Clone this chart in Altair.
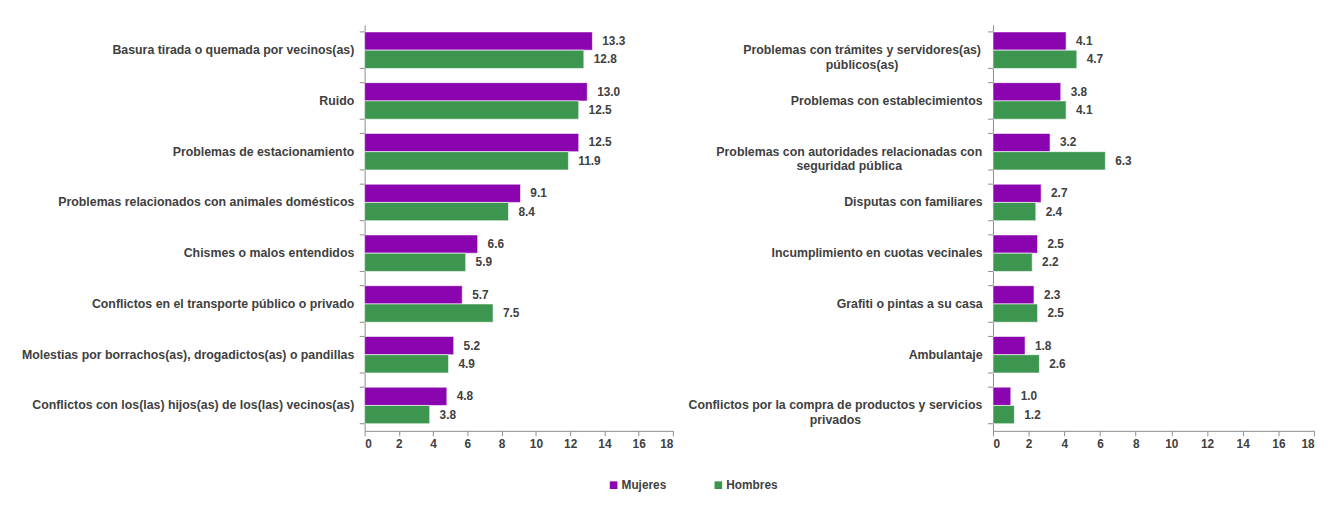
import altair as alt
import pandas as pd

series = ["Mujeres", "Hombres"]
colors = ["#8A05B0", "#3D9650"]

left_cats = [
    "Basura tirada o quemada por vecinos(as)",
    "Ruido",
    "Problemas de estacionamiento",
    "Problemas relacionados con animales domésticos",
    "Chismes o malos entendidos",
    "Conflictos en el transporte público o privado",
    "Molestias por borrachos(as), drogadictos(as) o pandillas",
    "Conflictos con los(las) hijos(as) de los(las) vecinos(as)",
]
left_mujeres = [13.3, 13.0, 12.5, 9.1, 6.6, 5.7, 5.2, 4.8]
left_hombres = [12.8, 12.5, 11.9, 8.4, 5.9, 7.5, 4.9, 3.8]

right_cats = [
    "Problemas con trámites y servidores(as)|públicos(as)",
    "Problemas con establecimientos",
    "Problemas con autoridades relacionadas con|seguridad pública",
    "Disputas con familiares",
    "Incumplimiento en cuotas vecinales",
    "Grafiti o pintas a su casa",
    "Ambulantaje",
    "Conflictos por la compra de productos y servicios|privados",
]
right_mujeres = [4.1, 3.8, 3.2, 2.7, 2.5, 2.3, 1.8, 1.0]
right_hombres = [4.7, 4.1, 6.3, 2.4, 2.2, 2.5, 2.6, 1.2]

x_ticks = [0, 2, 4, 6, 8, 10, 12, 14, 16, 18]

# label layout: two-line labels are centred; padding puts their centre in place
centre_pad = {
    right_cats[0]: 133,
    right_cats[2]: 146,
    right_cats[7]: 160,
}

FONT = "Liberation Sans"
TXT = "#404040"
AX = "#8C8C8C"
LBL = 12.5
NOVIEW = alt.ViewBackground(stroke="transparent", strokeWidth=0)


def make_df(cats, muj, hom):
    rows = []
    for c, m, h in zip(cats, muj, hom):
        rows.append({"cat": c, "serie": "Mujeres", "valor": m})
        rows.append({"cat": c, "serie": "Hombres", "valor": h})
    return pd.DataFrame(rows)


def panel(cats, muj, hom, width, extent, pads):
    df = make_df(cats, muj, hom)
    yscale = alt.Scale(domain=cats, paddingInner=0.28, paddingOuter=0.14)
    xscale = alt.Scale(domain=[0, 18], nice=False)
    axis_kw = dict(
        labelExpr="split(datum.label, '|')",
        ticks=False,
        domain=True,
        domainColor=AX,
        labelFont=FONT,
        labelFontSize=LBL,
        labelFontWeight="bold",
        labelColor=TXT,
        labelLimit=400,
        labelLineHeight=15,
        minExtent=extent,
        maxExtent=extent,
        grid=False,
        title=None,
    )
    if pads:
        conds_pad = [{"test": f"datum.value == '{k}'", "value": v} for k, v in pads.items()]
        conds_align = [{"test": f"datum.value == '{k}'", "value": "center"} for k in pads]
        axis_kw["labelPadding"] = {"condition": conds_pad, "value": 11}
        axis_kw["labelAlign"] = {"condition": conds_align, "value": "right"}
    else:
        axis_kw["labelPadding"] = 11
    y_axis = alt.Axis(**axis_kw)
    x_axis = alt.Axis(
        values=x_ticks,
        grid=False,
        title=None,
        domainColor=AX,
        tickColor=AX,
        tickSize=5,
        labelOverlap=False,
        labelFont=FONT,
        labelFontSize=12,
        labelFontWeight="bold",
        labelColor=TXT,
        labelPadding=3,
    )
    base = alt.Chart(df)
    bars = base.mark_bar(stroke="white", strokeWidth=0.6).encode(
        y=alt.Y("cat:N", scale=yscale, sort=cats, title=None, axis=y_axis),
        x=alt.X("valor:Q", scale=xscale, title=None, axis=x_axis),
        yOffset=alt.YOffset("serie:N", sort=series, scale=alt.Scale(paddingInner=0)),
        color=alt.Color(
            "serie:N",
            sort=series,
            scale=alt.Scale(domain=series, range=colors),
            legend=alt.Legend(
                title=None,
                orient="none",
                direction="horizontal",
                legendX=246,
                legendY=460,
                symbolType="square",
                symbolSize=60,
                symbolStrokeWidth=0,
                labelFont=FONT,
                labelFontSize=12,
                labelFontWeight="bold",
                labelColor=TXT,
                columnPadding=46,
                labelOffset=2,
            ),
        ),
    )
    labels = base.mark_text(
        align="left", baseline="middle", dx=10, font=FONT, fontSize=12,
        fontWeight="bold", color=TXT
    ).encode(
        y=alt.Y("cat:N", scale=yscale, sort=cats, title=None, axis=y_axis),
        x=alt.X("valor:Q", scale=xscale, title=None, axis=x_axis),
        yOffset=alt.YOffset("serie:N", sort=series, scale=alt.Scale(paddingInner=0)),
        text=alt.Text("valor:Q", format=".1f"),
    )
    tdf = pd.DataFrame({"cat": cats})
    ticks0 = alt.Chart(tdf).mark_rule(color=AX).encode(
        y=alt.Y("cat:N", scale=yscale, sort=cats, bandPosition=0, title=None, axis=y_axis),
        x=alt.value(-5),
        x2=alt.value(0),
    )
    ticks1 = alt.Chart(tdf).mark_rule(color=AX).encode(
        y=alt.Y("cat:N", scale=yscale, sort=cats, bandPosition=1, title=None, axis=y_axis),
        x=alt.value(-5),
        x2=alt.value(0),
    )
    return alt.layer(bars, labels, ticks0, ticks1).properties(
        width=width, height=411, view=NOVIEW
    )


left = panel(left_cats, left_mujeres, left_hombres, 312, 340, None)
right = panel(right_cats, right_mujeres, right_hombres, 325, 300, centre_pad)

chart = (
    alt.hconcat(left, right, spacing=14)
    .properties(padding={"left": 13, "top": 14, "right": 5, "bottom": 5})
    .configure_view(stroke="transparent", strokeWidth=0)
    .configure(background="white")
)

chart.save("out.html", embed_options={"renderer": "svg", "actions": False})
